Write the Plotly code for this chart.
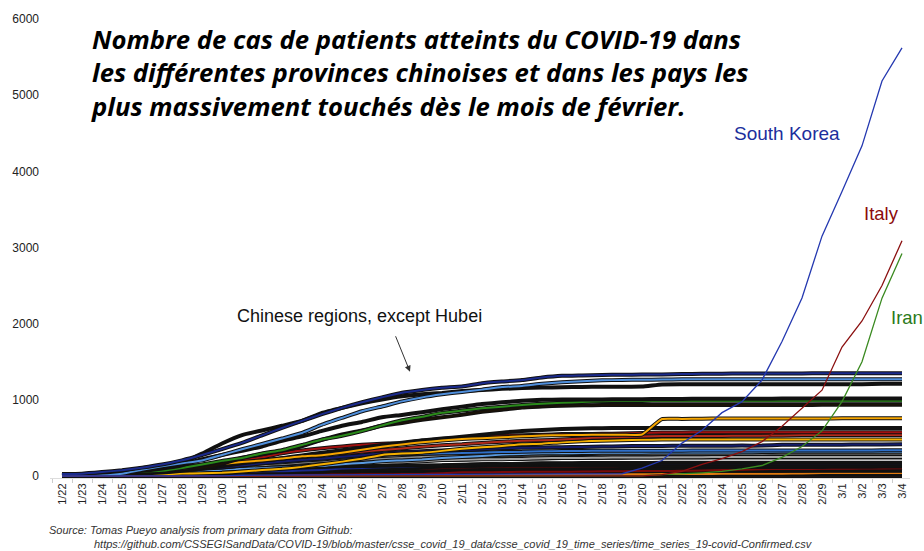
import plotly.graph_objects as go

dates = ["1/22","1/23","1/24","1/25","1/26","1/27","1/28","1/29","1/30","1/31",
         "2/1","2/2","2/3","2/4","2/5","2/6","2/7","2/8","2/9","2/10","2/11","2/12",
         "2/13","2/14","2/15","2/16","2/17","2/18","2/19","2/20","2/21","2/22","2/23",
         "2/24","2/25","2/26","2/27","2/28","2/29","3/1","3/2","3/3","3/4"]

guangdong = [26,32,53,78,111,151,207,277,354,436,535,632,725,813,895,970,1034,1095,1131,1159,1177,1219,1241,1261,1294,1316,1322,1328,1331,1332,1333,1339,1342,1345,1347,1347,1347,1348,1349,1349,1350,1350,1350]
henan = [5,5,9,32,83,128,168,206,278,352,422,493,566,675,764,851,914,981,1033,1073,1105,1135,1169,1184,1212,1231,1246,1257,1262,1265,1267,1270,1271,1271,1271,1271,1272,1272,1272,1272,1272,1272,1272]
zhejiang = [10,27,43,62,104,128,173,296,428,538,599,661,724,829,895,954,1006,1048,1075,1092,1117,1131,1145,1155,1162,1167,1171,1172,1174,1175,1203,1205,1205,1205,1205,1205,1205,1205,1205,1205,1206,1213,1213]
hunan = [4,9,24,43,69,100,143,221,277,332,389,463,521,593,661,711,772,803,838,879,912,946,968,988,1001,1004,1006,1007,1008,1010,1011,1013,1016,1016,1016,1016,1017,1017,1018,1018,1018,1018,1018]
anhui = [1,9,15,39,60,70,106,152,200,237,297,340,408,480,530,591,665,733,779,830,860,889,910,934,950,962,973,982,986,987,988,989,989,989,989,989,989,989,990,990,990,990,990]
jiangxi = [2,7,18,18,36,72,109,109,162,240,286,333,391,476,548,600,661,698,740,771,804,844,872,900,913,925,930,933,934,934,934,934,934,934,934,934,934,934,935,935,935,935,935]
shandong = [2,6,15,27,46,75,95,130,158,184,206,230,259,275,307,347,386,416,444,466,487,497,509,523,532,537,541,543,544,546,749,750,754,755,756,756,756,756,756,758,758,758,758]
jiangsu = [1,5,9,18,33,47,70,99,129,168,202,236,271,308,341,373,408,439,468,492,515,543,570,593,604,617,626,629,631,631,631,631,631,631,631,631,631,631,631,631,631,631,631]
chongqing = [6,9,27,57,75,110,132,147,182,211,247,300,337,366,389,411,426,428,468,486,505,518,529,537,544,551,553,555,560,567,572,573,575,576,576,576,576,576,576,576,576,576,576]
sichuan = [5,8,15,28,44,69,90,108,142,177,207,231,254,282,301,321,344,363,386,405,417,436,451,463,470,481,495,508,514,520,525,526,526,527,529,531,534,538,538,538,538,538,539]
heilongjiang = [0,2,4,9,15,21,33,38,44,59,80,95,121,155,190,227,277,295,307,331,360,378,395,419,425,445,457,464,470,476,479,479,480,480,480,480,480,480,480,480,480,481,481]
beijing = [14,22,36,41,68,80,91,111,114,139,168,191,212,228,253,274,297,315,326,337,342,352,366,372,375,380,381,387,393,395,396,399,399,399,400,400,410,410,411,413,414,414,418]
shanghai = [9,16,20,33,40,53,66,96,112,135,169,182,203,219,243,257,277,286,293,299,303,311,316,318,326,328,331,333,333,333,334,334,335,335,335,336,337,337,337,337,337,338,338]
hebei = [1,1,8,13,18,33,48,65,82,96,104,113,126,135,157,171,195,206,218,239,251,265,283,291,300,301,302,306,307,308,309,311,311,311,312,317,318,318,318,318,318,318,318]
fujian = [1,5,10,18,35,59,80,84,101,120,144,159,179,194,205,215,224,239,250,261,267,272,279,281,285,287,290,292,293,293,293,293,293,293,294,294,296,296,296,296,296,296,296]
guangxi = [2,5,23,23,36,46,51,58,78,87,100,111,127,139,150,168,172,183,195,210,215,222,222,226,235,237,238,242,244,245,246,249,249,251,252,252,252,252,252,252,252,252,252]
shaanxi = [0,3,5,15,22,35,46,56,63,87,101,116,128,142,165,173,184,195,208,213,219,225,229,230,232,236,240,240,242,244,245,245,245,245,245,245,245,245,245,245,245,245,245]
yunnan = [1,2,5,11,16,26,44,55,70,83,93,105,117,122,128,133,135,138,140,141,149,154,155,162,168,169,171,172,172,172,174,174,174,174,174,174,174,174,174,174,174,174,174]
hainan = [4,5,8,19,22,33,40,43,46,52,62,64,72,80,99,106,117,124,131,138,144,157,157,159,162,162,163,163,168,168,168,168,168,168,168,168,168,168,168,168,168,168,168]
guizhou = [1,3,3,4,5,7,9,12,29,29,38,46,58,64,71,81,89,99,109,127,133,135,140,143,144,146,146,146,146,146,146,146,146,146,146,146,146,146,146,146,146,146,146]
tianjin = [4,4,8,10,14,23,24,27,32,41,48,60,67,69,79,81,88,91,96,106,112,119,120,122,124,125,128,130,131,133,135,135,135,135,135,135,136,136,136,136,136,136,136]
shanxi = [1,2,5,9,13,27,27,35,39,47,56,66,74,81,90,96,104,115,119,122,124,126,126,127,128,129,130,131,131,132,132,132,132,133,133,133,133,133,133,133,133,133,133]
liaoning = [2,3,4,17,21,27,34,39,41,48,64,70,74,81,89,94,99,105,107,108,111,114,116,117,119,119,121,121,121,121,121,121,121,121,121,121,121,121,121,122,122,125,125]
hongkong = [0,2,2,5,8,8,8,10,10,13,14,15,15,18,21,24,25,26,29,38,49,50,53,56,56,57,60,62,63,68,68,69,74,79,84,91,92,94,95,96,100,100,104]
jilin = [0,1,3,4,4,6,8,9,14,14,17,23,31,42,54,59,65,69,78,80,81,83,84,86,88,89,89,89,90,91,91,91,91,93,93,93,93,93,93,93,93,93,93]
gansu = [0,2,2,4,7,14,19,24,26,29,40,51,55,57,62,62,67,79,83,83,86,87,90,90,90,90,91,91,91,91,91,91,91,91,91,91,91,91,91,91,91,91,102]
xinjiang = [0,2,2,3,4,5,10,13,14,17,18,21,24,29,32,36,39,42,45,49,55,59,63,65,70,71,73,76,76,76,76,76,76,76,76,76,76,76,76,76,76,76,76]
inner_mongolia = [0,0,1,7,7,11,15,16,19,20,23,27,34,35,42,46,50,52,54,58,58,60,61,65,68,70,72,73,75,75,75,75,75,75,75,75,75,75,75,75,75,75,75]
ningxia = [1,1,2,3,4,7,11,12,17,21,26,28,31,34,34,40,43,45,45,49,53,58,64,67,70,70,70,70,71,71,71,71,71,72,72,73,73,74,74,75,75,75,75]
taiwan = [1,1,3,3,4,5,8,8,9,10,10,10,10,11,11,16,16,17,18,18,18,18,18,18,18,20,22,22,23,24,26,26,28,30,31,32,32,34,39,40,41,42,42]
qinghai = [0,0,0,1,4,6,6,6,8,9,11,13,15,17,18,18,18,18,18,18,18,18,18,18,18,18,18,18,18,18,18,18,18,18,18,18,18,18,18,18,18,18,18]
macau = [1,2,2,2,5,6,7,7,7,7,7,7,8,8,10,10,10,10,10,10,10,10,10,10,10,10,10,10,10,10,10,10,10,10,10,10,10,10,10,10,10,10,10]
tibet = [0,0,0,0,0,0,0,1,1,1,1,1,1,1,1,1,1,1,1,1,1,1,1,1,1,1,1,1,1,1,1,1,1,1,1,1,1,1,1,1,1,1,1]

south_korea = [1,1,2,2,3,4,4,4,4,11,12,15,15,16,19,23,24,24,25,27,28,28,28,28,28,29,30,31,31,104,204,433,602,833,977,1261,1766,2337,3150,3736,4335,5186,5621]
italy = [0,0,0,0,0,0,0,0,0,2,2,2,2,2,2,2,3,3,3,3,3,3,3,3,3,3,3,3,3,3,20,62,155,229,322,453,655,888,1128,1694,2036,2502,3089]
iran = [0,0,0,0,0,0,0,0,0,0,0,0,0,0,0,0,0,0,0,0,0,0,0,0,0,0,0,0,2,5,18,28,43,61,95,139,245,388,593,978,1501,2336,2922]

provinces = [
    ("Tibet", tibet, "#111111"), ("Macau", macau, "#c0301a"), ("Qinghai", qinghai, "#111111"),
    ("Taiwan", taiwan, "#e07a10"), ("Ningxia", ningxia, "#b8301a"), ("Inner Mongolia", inner_mongolia, "#3a1a08"),
    ("Xinjiang", xinjiang, "#111111"), ("Gansu", gansu, "#2a7a1a"), ("Jilin", jilin, "#111111"),
    ("Hong Kong", hongkong, "#7a0a0a"), ("Liaoning", liaoning, "#4a1a0a"), ("Shanxi", shanxi, "#111111"),
    ("Tianjin", tianjin, "#5a0a0a"), ("Guizhou", guizhou, "#111111"), ("Hainan", hainan, "#1a2a8c"),
    ("Yunnan", yunnan, "#111111"), ("Shaanxi", shaanxi, "#3a5a2a"), ("Guangxi", guangxi, "#a0a0a0"),
    ("Fujian", fujian, "#8a8a8a"), ("Hebei", hebei, "#5a9ae0"), ("Shanghai", shanghai, "#2f6fc8"),
    ("Beijing", beijing, "#141c6a"), ("Heilongjiang", heilongjiang, "#f5b000"), ("Sichuan", sichuan, "#b02a1a"),
    ("Chongqing", chongqing, "#a01010"), ("Jiangsu", jiangsu, "#111111"), ("Shandong", shandong, "#f5a500"),
    ("Jiangxi", jiangxi, "#1a1208"), ("Anhui", anhui, "#2a8a1a"), ("Hunan", hunan, "#111111"),
    ("Zhejiang", zhejiang, "#111111"), ("Henan", henan, "#4f8fdc"), ("Guangdong", guangdong, "#1a2a8c"),
]

countries = [
    ("Iran", iran, "#3a8a20"), ("Italy", italy, "#8b1010"), ("South Korea", south_korea, "#2438b0"),
]

fig = go.Figure()
for name, vals, col in provinces:
    fig.add_trace(go.Scatter(x=dates, y=vals, mode="lines", name=name,
                             line=dict(color="#111111", width=4, shape="spline", smoothing=0.4),
                             hoverinfo="skip", showlegend=False))
    fig.add_trace(go.Scatter(x=dates, y=vals, mode="lines", name=name,
                             line=dict(color=col, width=2, shape="spline", smoothing=0.4),
                             showlegend=False))
for name, vals, col in countries:
    fig.add_trace(go.Scatter(x=dates, y=vals, mode="lines", name=name,
                             line=dict(color=col, width=1.3), showlegend=False))

# Body margin is removed by a post script, so figure pixels equal window pixels.
OFFX, OFFY = 0, 0
W, H = 924, 551
Y_MIN, Y_MAX = -25, 6000
ZERO_Y, PX_PER_1000 = 476.5, 76.3

def wx(x):
    return x - OFFX

def wy(y):
    return y - OFFY

top_win = ZERO_Y - Y_MAX * PX_PER_1000 / 1000
bot_win = ZERO_Y - Y_MIN * PX_PER_1000 / 1000
L = wx(50)
R = W - wx(910)
T = wy(top_win)
B = H - wy(bot_win)
pw, ph = W - L - R, H - T - B

def px(x):
    return (wx(x) - L) / pw

def py(y):
    return (H - B - wy(y)) / ph

title_text = ("Nombre de cas de patients atteints du COVID-19 dans<br>"
              "les différentes provinces chinoises et dans les pays les<br>"
              "plus massivement touchés dès le mois de février.")

annotations = [
    dict(text="<b><i>" + title_text + "</i></b>", x=px(89), y=py(73), xref="paper", yref="paper",
         xanchor="left", yanchor="middle", align="left", showarrow=False,
         font=dict(family="Open Sans", size=25.7, color="#000000")),
    dict(text="South Korea", x=px(732), y=py(133), xref="paper", yref="paper", xanchor="left", yanchor="middle",
         showarrow=False, font=dict(family="Liberation Sans", size=19, color="#1c2e9c")),
    dict(text="Italy", x=px(862), y=py(213), xref="paper", yref="paper", xanchor="left", yanchor="middle",
         showarrow=False, font=dict(family="Liberation Sans", size=18.5, color="#8b0a0a")),
    dict(text="Iran", x=px(889), y=py(318), xref="paper", yref="paper", xanchor="left", yanchor="middle",
         showarrow=False, font=dict(family="Liberation Sans", size=18.5, color="#2a7a1a")),
    dict(text="Chinese regions, except Hubei", x=px(235), y=py(316), xref="paper", yref="paper",
         xanchor="left", yanchor="middle", showarrow=False,
         font=dict(family="Liberation Sans", size=18, color="#111111")),
    dict(text="", x=px(410), y=py(372), xref="paper", yref="paper", showarrow=True,
         ax=-15, ay=-37, arrowhead=2, arrowsize=1.2, arrowwidth=1, arrowcolor="#333333"),
    dict(text="<i>Source: Tomas Pueyo analysis from primary data from Github:</i>", x=px(47), y=py(530),
         xref="paper", yref="paper", xanchor="left", yanchor="middle", showarrow=False,
         font=dict(family="Liberation Sans", size=11, color="#333333")),
    dict(text="<i>https://github.com/CSSEGISandData/COVID-19/blob/master/csse_covid_19_data/csse_covid_19_time_series/time_series_19-covid-Confirmed.csv</i>",
         x=px(92), y=py(545), xref="paper", yref="paper", xanchor="left", yanchor="middle", showarrow=False,
         font=dict(family="Liberation Sans", size=11, color="#333333")),
]

fig.update_layout(
    width=W, height=H,
    margin=dict(l=L, r=R, t=T, b=B, autoexpand=False),
    paper_bgcolor="white", plot_bgcolor="white",
    showlegend=False,
    annotations=annotations,
    xaxis=dict(type="category", range=[-0.6, 42.4], tickangle=-90, showgrid=False, zeroline=False,
               showline=True, linecolor="#dddddd", linewidth=1, ticks="outside", tickson="boundaries",
               ticklen=4, tickcolor="#cccccc", automargin=False,
               tickfont=dict(family="Liberation Sans", size=11, color="#222222")),
    yaxis=dict(range=[Y_MIN, Y_MAX], tickvals=[0, 1000, 2000, 3000, 4000, 5000, 6000], showgrid=False,
               zeroline=False, showline=False, ticks="", ticklabelstandoff=10, ticklabeloverflow="allow",
               automargin=False,
               tickfont=dict(family="Liberation Sans", size=12, color="#222222")),
)

fig.write_html("out.html", config={"displayModeBar": False},
               post_script="document.body.style.margin='0';document.body.style.overflow='hidden';")
